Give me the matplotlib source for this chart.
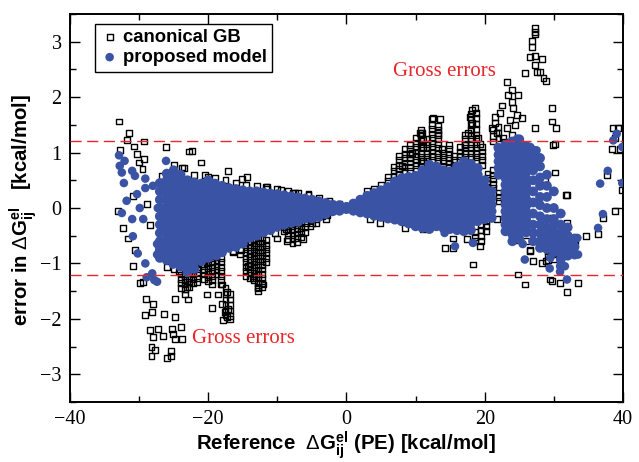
import matplotlib
matplotlib.use("Agg")
import matplotlib.pyplot as plt
from matplotlib.ticker import MultipleLocator

# proposed model: dense core, one column of errors per reference energy
blue_core = [
    (-27, [0.45, 0.3, 0.15, 0.0, -0.15, -0.3, -0.45, -0.6, -0.75, -0.9]),
    (-26, [0.62, 0.5, 0.38, 0.26, 0.14, 0.02, -0.1, -0.22, -0.34, -0.46, -0.58, -0.7, -0.82, -0.94]),
    (-25, [0.68, 0.56, 0.44, 0.32, 0.2, 0.08, -0.04, -0.16, -0.28, -0.4, -0.52, -0.64, -0.76, -0.88, -1.0]),
    (-24, [0.6, 0.48, 0.36, 0.24, 0.12, 0.0, -0.12, -0.24, -0.36, -0.48, -0.6, -0.72, -0.84, -0.96, -1.06]),
    (-23, [0.5, 0.38, 0.26, 0.14, 0.02, -0.1, -0.22, -0.34, -0.46, -0.58, -0.7, -0.82, -0.94, -1.06, -1.16]),
    (-22, [0.46, 0.34, 0.22, 0.1, -0.02, -0.14, -0.26, -0.38, -0.5, -0.62, -0.74, -0.86, -0.98, -1.1]),
    (-21, [0.44, 0.32, 0.2, 0.08, -0.04, -0.16, -0.28, -0.4, -0.52, -0.64, -0.76, -0.88, -0.96]),
    (-20, [0.5, 0.38, 0.26, 0.14, 0.02, -0.1, -0.22, -0.34, -0.46, -0.58, -0.7, -0.82, -0.9]),
    (-19, [0.44, 0.32, 0.2, 0.08, -0.04, -0.16, -0.28, -0.4, -0.52, -0.64, -0.76, -0.85]),
    (-18, [0.4, 0.28, 0.16, 0.04, -0.08, -0.2, -0.32, -0.44, -0.56, -0.68, -0.8]),
    (-17, [0.36, 0.24, 0.12, 0.0, -0.12, -0.24, -0.36, -0.48, -0.6, -0.72]),
    (-16, [0.34, 0.22, 0.1, -0.02, -0.14, -0.26, -0.38, -0.5, -0.62, -0.7]),
    (-15, [0.32, 0.2, 0.08, -0.04, -0.16, -0.28, -0.4, -0.52, -0.64]),
    (-14, [0.3, 0.18, 0.06, -0.06, -0.18, -0.3, -0.42, -0.54]),
    (-13, [0.3, 0.18, 0.06, -0.06, -0.18, -0.3, -0.42, -0.5]),
    (-12, [0.28, 0.16, 0.04, -0.08, -0.2, -0.32, -0.44]),
    (-11, [0.26, 0.14, 0.02, -0.1, -0.22, -0.34, -0.4]),
    (-10, [0.25, 0.13, 0.01, -0.11, -0.23, -0.34]),
    (-9, [0.23, 0.11, -0.01, -0.13, -0.25, -0.3]),
    (-8, [0.21, 0.09, -0.03, -0.15, -0.27]),
    (-7, [0.19, 0.07, -0.05, -0.17, -0.25]),
    (-6, [0.17, 0.05, -0.07, -0.19]),
    (-5, [0.15, 0.03, -0.09, -0.19]),
    (-4, [0.12, 0.0, -0.12, -0.16]),
    (-3, [0.09, -0.03, -0.11]),
    (-2, [0.06, -0.06]),
    (-1, [0.05, -0.05]),
    (0, [0.02, -0.02]),
    (1, [0.08, -0.05]),
    (2, [0.15, 0.03, -0.08]),
    (3, [0.22, 0.1, -0.02, -0.1]),
    (4, [0.27, 0.15, 0.03, -0.09, -0.14]),
    (5, [0.32, 0.2, 0.08, -0.04, -0.16]),
    (6, [0.38, 0.26, 0.14, 0.02, -0.1, -0.19]),
    (7, [0.48, 0.36, 0.24, 0.12, 0.0, -0.12, -0.21]),
    (8, [0.54, 0.42, 0.3, 0.18, 0.06, -0.06, -0.18, -0.24]),
    (9, [0.56, 0.44, 0.32, 0.2, 0.08, -0.04, -0.16, -0.28]),
    (10, [0.58, 0.46, 0.34, 0.22, 0.1, -0.02, -0.14, -0.26, -0.33]),
    (11, [0.68, 0.56, 0.44, 0.32, 0.2, 0.08, -0.04, -0.16, -0.28, -0.36]),
    (12, [0.78, 0.66, 0.54, 0.42, 0.3, 0.18, 0.06, -0.06, -0.18, -0.3, -0.38]),
    (13, [0.75, 0.63, 0.51, 0.39, 0.27, 0.15, 0.03, -0.09, -0.21, -0.33]),
    (14, [0.68, 0.56, 0.44, 0.32, 0.2, 0.08, -0.04, -0.16, -0.28, -0.36]),
    (15, [0.66, 0.54, 0.42, 0.3, 0.18, 0.06, -0.06, -0.18, -0.3, -0.38]),
    (16, [0.75, 0.63, 0.51, 0.39, 0.27, 0.15, 0.03, -0.09, -0.21, -0.33, -0.4]),
    (17, [0.84, 0.72, 0.6, 0.48, 0.36, 0.24, 0.12, 0.0, -0.12, -0.24, -0.36, -0.42]),
    (18, [0.8, 0.68, 0.56, 0.44, 0.32, 0.2, 0.08, -0.04, -0.16, -0.28, -0.4]),
    (19, [0.72, 0.6, 0.48, 0.36, 0.24, 0.12, 0.0, -0.12, -0.24]),
    (20, [0.5, 0.38, 0.26, 0.14, 0.02, -0.1, -0.2]),
    (21, [0.3, 0.18, 0.06, -0.06, -0.18]),
    (22, [1.08, 0.96, 0.84, 0.72, 0.6]),
    (23, [1.14, 1.02, 0.9, 0.78, 0.66, 0.54, 0.42, 0.3, 0.18, 0.06, -0.06, -0.18, -0.3, -0.42]),
    (24, [1.2, 1.08, 0.96, 0.84, 0.72, 0.6, 0.48, 0.36, 0.24, 0.12, 0.0, -0.12, -0.24, -0.36, -0.48, -0.6]),
    (25, [1.24, 1.12, 1.0, 0.88, 0.76, 0.64, 0.52, 0.4, 0.28, 0.16, 0.04, -0.08, -0.2, -0.32, -0.44, -0.56]),
    (26, [1.12, 1.0, 0.88, 0.76, 0.64, 0.52, 0.4, 0.28, 0.16, 0.04, -0.08, -0.2, -0.32, -0.44]),
    (27, [1.04, 0.92, 0.8, 0.68, 0.5, 0.3, 0.1, -0.1, -0.3, -0.45, -0.6]),
    (28, [0.9, 0.75, 0.55, 0.4, 0.2, 0.05, -0.15, -0.3, -0.45, -0.6, -0.72]),
    (29, [0.6, 0.4, 0.2, 0.0, -0.2, -0.35, -0.5, -0.62, -0.74]),
    (30, [0.3, 0.0, -0.2, -0.32, -0.44, -0.56, -0.68, -0.8]),
    (31, [-0.1, -0.3, -0.45, -0.57, -0.69, -0.81, -0.93, -1.05]),
    (32, [-0.35, -0.5, -0.62, -0.74, -0.86]),
    (33, [-0.55, -0.7, -0.84]),
]

# proposed model: scattered points outside the core
blue_x = [-32.9, -32.8, -32.1, -32.5, -32.2, -31.0, -30.6, -31.8, -32.5, -31.0,
          -30.3, -29.1, -29.1, -28.0, -26.1, -27.3, -29.4, -29.9, -30.9, -30.2,
          -29.1, -28.1, -27.4, -27.4, -27.4, -26.0, -25.1, -23.8, -22.2, -20.2,
          -18.8, -23.1, -26.5, -28.9, -27.8,
          24.7, 23.2, 21.9, 26.6, 27.5, 28.0,
          39.1, 38.6, 39.9, 37.8, 36.7, 39.9, 37.1, 36.4, 33.2,
          14.2, 15.7, 18.3, 25.8, 29.4, 30.9, 31.6, 31.9, 33.4, 33.5, 25.5, 29.5]
blue_y = [0.95, 0.76, 0.85, 0.64, 0.45, 0.67, 0.58, 0.13, -0.09, -0.2,
          0.25, 0.36, 0.53, 0.4, 0.85, 0.0, -0.2, 0.0, -0.51, -0.82,
          -1.0, -1.18, -1.33, -0.65, -0.84, -0.93, -1.02, -0.84, -0.78, -0.87,
          -0.87, -0.65, -0.73, -1.25, -1.3,
          1.25, 1.16, 1.1, 1.1, 1.04, 0.91,
          1.34, 1.22, 1.1, 0.67, 0.44, 0.45, -0.11, -0.36, -0.55,
          -0.45, -0.69, -0.63, -0.93, -1.09, -1.15, -1.05, -1.29, -0.54, -0.84, -0.65, -0.9]

# canonical GB: dense clusters, again as columns
gb_clusters = [
    (-24.0, [-1.2, -1.28, -1.36, -1.44]),
    (-23.4, [-1.22, -1.3, -1.38, -1.46, -1.56]),
    (-22.8, [-1.18, -1.26, -1.34, -1.42]),
    (-22.2, [-1.12, -1.2, -1.28, -1.36]),
    (-21.6, [-1.1, -1.18, -1.26, -1.34]),
    (-20.6, [-0.96, -1.04, -1.12, -1.2, -1.28]),
    (-20.0, [-0.92, -1.0, -1.08, -1.16, -1.24, -1.32]),
    (-19.4, [-0.9, -0.98, -1.06, -1.14, -1.22, -1.3, -1.38]),
    (-18.8, [-0.88, -0.96, -1.04, -1.12, -1.2]),
    (-18.2, [-0.9, -0.98, -1.06, -1.14, -1.22, -1.3, -1.38]),
    (-17.5, [-1.45, -1.55, -1.65, -1.75, -1.85, -1.93]),
    (-16.9, [-1.55, -1.65, -1.75, -1.85, -1.95, -2.0]),
    (-14.6, [-0.66, -0.74, -0.82, -0.9, -0.98, -1.06, -1.14, -1.22]),
    (-14.0, [-0.62, -0.7, -0.78, -0.86, -0.94, -1.02, -1.1, -1.18, -1.26]),
    (-13.4, [-0.58, -0.66, -0.74, -0.82, -0.9, -0.98, -1.06, -1.14, -1.22, -1.3]),
    (-12.8, [-0.55, -0.63, -0.71, -0.79, -0.87, -0.95, -1.03, -1.11, -1.19, -1.27, -1.35, -1.43, -1.5]),
    (-12.2, [-0.55, -0.63, -0.71, -0.79, -0.87, -0.95, -1.03, -1.11, -1.19, -1.27, -1.35, -1.43]),
    (-11.6, [-0.58, -0.66, -0.74, -0.82, -0.9, -0.98]),
    (-9.0, [-0.34, -0.42]),
    (-8.4, [-0.32, -0.4, -0.48, -0.56]),
    (-7.8, [-0.32, -0.4, -0.48, -0.56, -0.64]),
    (-7.2, [-0.3, -0.38, -0.46, -0.54, -0.62]),
    (-6.6, [-0.28, -0.36, -0.44, -0.52]),
    (-6.0, [-0.27, -0.35, -0.43]),
    (-5.2, [-0.24, -0.32]),
    (-4.4, [-0.2, -0.27]),
    (-3.6, [-0.15]),
    (-2.8, [-0.12]),
    (3.0, [0.3]),
    (4.0, [0.35]),
    (5.0, [0.42]),
    (6.0, [0.48, 0.56]),
    (6.8, [0.58, 0.66, 0.74]),
    (7.6, [0.62, 0.7, 0.78, 0.86, 0.94]),
    (8.4, [0.66, 0.74, 0.82, 0.9, 0.98, 1.06]),
    (9.2, [0.66, 0.74, 0.82, 0.9, 0.98, 1.06, 1.14]),
    (10.0, [0.7, 0.78, 0.86, 0.94, 1.02, 1.1, 1.18, 1.26]),
    (10.8, [0.76, 0.84, 0.92, 1.0, 1.08, 1.16, 1.24, 1.32, 1.4]),
    (11.6, [0.84, 0.92, 1.0, 1.08, 1.16, 1.24]),
    (12.4, [0.86, 0.94, 1.02, 1.1, 1.18, 1.26, 1.34, 1.42, 1.5, 1.6]),
    (13.2, [0.84, 0.92, 1.0, 1.08, 1.16, 1.24, 1.32, 1.4, 1.48]),
    (14.0, [0.76, 0.84, 0.92, 1.0]),
    (14.8, [0.74, 0.82, 0.9, 0.98, 1.06, 1.14]),
    (15.6, [0.78, 0.86, 0.94]),
    (16.4, [0.86, 0.94, 1.02, 1.1]),
    (17.2, [0.92, 1.0, 1.08, 1.16, 1.24, 1.32]),
    (18.0, [0.92, 1.0, 1.08, 1.16, 1.24, 1.32, 1.4, 1.5, 1.6, 1.7]),
    (18.8, [0.84, 0.92, 1.0, 1.08, 1.16, 1.24, 1.32, 1.42, 1.52, 1.62, 1.72]),
    (19.6, [0.78, 0.86, 0.94, 1.02, 1.1]),
    (20.4, [0.3, 0.38, 0.46, 0.54, 0.62]),
    (21.2, [0.36, 0.44, 0.52, 0.6, 0.68, 1.2, 1.3, 1.4]),
    (22.0, [0.12, 0.2, 0.28, 1.26, 1.36, 1.46]),
    (18.6, [-0.44, -0.52, -0.6]),
    (19.4, [-0.3, -0.4, -0.5, -0.6]),
    (20.2, [-0.24, -0.32, -0.42]),
    (29.2, [-0.78, -0.86, -0.94]),
    (30.0, [-0.76, -0.84, -0.92]),
]

# canonical GB: core edges, sparse points and gross errors
gb_x = [-25.0, -23.5, -22.0, -20.5, -19.0, -17.5, -16.0, -14.5, -13.0, -11.5,
        -10.0, -8.5, -7.0, -5.5, -4.0, -2.5, -1.0, -11.7, -9.5, -7.4, -5.5,
        -26.0, -25.0, -24.2, -21.0, -19.4, -16.4, -15.2, -10.4, -8.8, -5.0,
        -32.9, -31.4, -31.8, -30.8, -29.3, -30.3, -30.0, -29.5, -29.3, -32.8,
        -26.1, -22.8, -22.4, -21.1, -17.1, -20.0, -14.4, -15.1, -7.7, -13.5,
        -11.5, -23.8, -25.1, -26.7, -28.9, -30.9, -32.3, -33.0, -28.4,
        -31.6, -30.6, -30.9, -29.9, -29.4, -29.0, -28.0, -28.1, -29.1, -26.4,
        -24.8, -24.8, -28.4, -27.3, -28.0, -26.6, -25.3, -25.1, -23.9, -23.8,
        -24.8, -28.2, -27.7, -28.2, -26.0, -25.4, -25.4, -23.1, -22.9, -21.7,
        -20.2, -19.5, -18.6, -18.0, -17.3, -18.0, -17.6, -17.3, -17.1, -17.8,
        -16.4, -15.4, -14.2, -13.5, -12.0, -12.8, -10.1, -8.6, -6.3, -3.0,
        10.9, 12.5, 13.5, 13.2, 13.8, 9.5, 11.1,
        18.1, 18.6, 17.9, 18.1, 17.6, 19.0, 17.1, 19.3,
        23.2, 23.9, 23.4, 24.8, 23.9, 22.5, 24.1, 22.2, 24.7, 21.5,
        25.4, 23.6, 21.5, 21.0, 23.2, 24.4, 21.7, 22.6, 23.9, 22.9, 24.6,
        27.3, 27.3, 27.3, 26.8, 26.8, 26.6, 27.3, 28.3, 27.3, 27.6,
        28.0, 25.8, 28.5, 28.9,
        29.7, 29.7, 30.3, 27.3, 29.9, 30.2, 30.2, 28.7, 31.9, 31.9, 29.7,
        8.0, 9.2, 11.1, 10.6, 11.1, 5.3, 7.3,
        3.4, 4.8, 8.5, 11.1, 15.4, 21.8, 14.2, 15.4, 18.3, 19.3, 17.4,
        24.8, 25.8, 26.6, 27.0, 28.3, 29.4, 30.9, 31.9, 33.5, 36.4, 33.1,
        24.4, 26.5, 28.9, 29.7, 31.8, 32.9, 34.7, 26.0, 28.2,
        38.6, 39.3, 38.9, 38.4, 39.6, 37.7, 39.9, 38.9, 37.1]
gb_y = [0.78, 0.72, 0.6, 0.6, 0.55, 0.5, 0.46, 0.42, 0.4, 0.38,
        0.34, 0.3, 0.27, 0.23, 0.18, 0.13, 0.08, 0.38, 0.32, 0.28, 0.25,
        -1.06, -1.1, -1.14, -1.02, -0.98, -0.8, -0.75, -0.45, -0.38, -0.28,
        1.56, 1.36, 1.22, 1.11, 1.2, 0.98, 0.82, 0.71, 0.89, 1.04,
        1.1, 1.02, 1.03, 0.82, 0.67, 0.56, 0.56, 0.53, 0.27, 0.18,
        0.35, 0.73, 0.62, 0.58, 0.07, 0.22, -0.36, -0.05, -0.3,
        -0.55, -0.75, -1.05, -1.36, -1.33, -1.64, -1.73, -1.87, -1.93, -1.91,
        -1.96, -1.64, -2.2, -2.18, -2.33, -2.31, -2.18, -2.27, -2.15, -2.36,
        -2.36, -2.51, -2.56, -2.67, -2.71, -2.67, -2.58, -1.42, -1.65, -1.02,
        -1.56, -1.8, -1.56, -1.38, -1.51, -1.73, -1.87, -1.96, -1.82, -2.02,
        -0.78, -0.84, -1.05, -1.27, -1.38, -1.45, -0.55, -0.6, -0.56, -0.2,
        1.35, 1.62, 1.6, 1.35, 1.07, 1.0, 1.1,
        1.76, 1.8, 1.64, 1.53, 1.35, 1.27, 1.13, 1.16,
        2.27, 2.13, 2.04, 2.04, 1.91, 1.85, 1.8, 1.71, 1.67, 1.64,
        1.62, 1.58, 1.53, 1.44, 1.44, 1.49, 1.35, 1.27, 1.31, 1.2, 1.22,
        3.25, 3.18, 3.13, 3.02, 2.91, 2.73, 2.75, 2.69, 2.58, 2.45,
        2.45, 2.44, 2.35, 2.29,
        1.8, 1.56, 1.44, 1.44, 1.13, 1.15, 0.64, 0.53, 0.24, -0.27, -0.18,
        0.76, 0.98, 0.85, 1.35, 1.22, 0.25, 0.35,
        -0.2, -0.27, -0.36, -0.38, -0.55, -0.2, -0.72, -0.72, -1.02, -0.69, -0.56,
        -1.2, -1.38, -0.78, -0.96, -1.0, -1.29, -1.36, -1.51, -1.36, -0.47, -0.6,
        -0.58, -0.76, -0.95, -1.31, 0.24, -0.6, -0.51, -0.6, -0.5,
        1.44, 1.44, 1.27, 1.07, 1.07, 0.6, 0.33, -0.05, -0.18]

gross_labels = [(6.7, 2.47), (-22.4, -2.35)]
gross_limit = 1.2

plt.rcParams["font.family"] = ["Liberation Sans", "DejaVu Sans"]
plt.rcParams["mathtext.fontset"] = "custom"
plt.rcParams["mathtext.rm"] = "Liberation Sans"
plt.rcParams["mathtext.bf"] = "Liberation Sans:bold"

fig = plt.figure(figsize=(6.39, 4.62), dpi=100)
ax = fig.add_axes([0.1095, 0.1299, 0.8654, 0.8398])

# flatten the column lists
gbx = list(gb_x)
gby = list(gb_y)
for x, ys in gb_clusters:
    gbx += [x] * len(ys)
    gby += ys
cx, cy = [], []
for x, ys in blue_core:
    cx += [x] * len(ys)
    cy += ys

blue = "#3a53a4"
ax.scatter(gbx, gby, s=18, marker="s", facecolors="none", edgecolors="black",
           linewidths=1.0, label="canonical GB", zorder=2)
ax.scatter(cx, cy, s=50, marker="o", color=blue, edgecolors="none", zorder=3)
ax.scatter(blue_x, blue_y, s=38, marker="o", color=blue, edgecolors="none",
           label="proposed model", zorder=3)

ax.axhline(gross_limit, color="#e8262b", lw=1.0, dashes=(8, 4), zorder=4)
ax.axhline(-gross_limit, color="#e8262b", lw=1.0, dashes=(8, 4), zorder=4)
for tx, ty in gross_labels:
    ax.text(tx, ty, "Gross errors", color="#e8262b", fontsize=15,
            family="Liberation Serif", va="center", ha="left", zorder=5)

ax.set_xlim(-40, 40)
ax.set_ylim(-3.5, 3.5)
ax.xaxis.set_major_locator(MultipleLocator(20))
ax.xaxis.set_minor_locator(MultipleLocator(10))
ax.yaxis.set_major_locator(MultipleLocator(1))
ax.yaxis.set_minor_locator(MultipleLocator(0.5))
ax.tick_params(which="both", direction="in", top=True, right=True, width=1.0)
ax.tick_params(which="major", length=7, labelsize=14.5, pad=6)
ax.tick_params(which="minor", length=4)
for lab in ax.get_xticklabels() + ax.get_yticklabels():
    lab.set_family("Liberation Serif")
for sp in ax.spines.values():
    sp.set_linewidth(1.4)

ax.set_xlabel(r"Reference  $\Delta\mathbf{G^{el}_{ij}}$ (PE) [kcal/mol]",
              fontsize=14.7, fontweight="bold")
ax.set_ylabel(r"error in $\Delta\mathbf{G^{el}_{ij}}$   [kcal/mol]",
              fontsize=14.7, fontweight="bold")
ax.xaxis.set_label_coords(0.5, -0.112)
ax.xaxis.label.set_va("center")
ax.yaxis.set_label_coords(-0.085, 0.495)
ax.yaxis.label.set_va("center")

leg = ax.legend(loc="upper left", bbox_to_anchor=(0.045, 0.975), fancybox=False,
                edgecolor="black", framealpha=1, borderpad=0.3, labelspacing=0.15,
                handletextpad=0.2, handlelength=1.0, borderaxespad=0,
                prop={"weight": "bold", "size": 13.3})
leg.get_frame().set_linewidth(1.0)

fig.savefig("out.png", dpi=100)
